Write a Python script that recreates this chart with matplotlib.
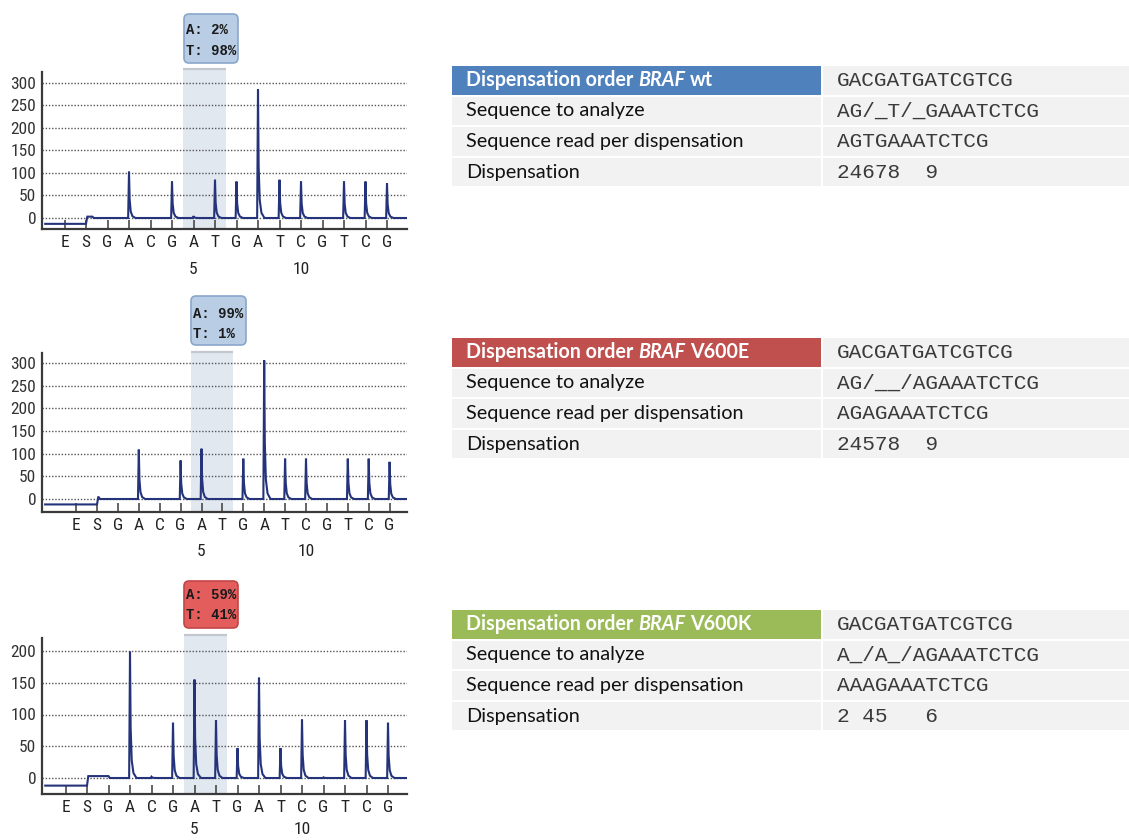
import matplotlib
matplotlib.use("Agg")
import matplotlib.pyplot as plt
from matplotlib import font_manager, transforms
from matplotlib.patches import Rectangle, FancyBboxPatch

# ---------------- data ----------------
disp_labels = ['E', 'S', 'G', 'A', 'C', 'G', 'A', 'T', 'G', 'A', 'T', 'C', 'G', 'T', 'C', 'G']
disp_positions = list(range(-1, 15))
numbered_positions = [5, 10]

wt_heights = [0, 103, 0, 81, 4, 85, 81, 286, 85, 81, 0, 81, 81, 77]
v600e_heights = [0, 109, 0, 85, 111, 0, 89, 306, 89, 89, 0, 89, 89, 82]
v600k_heights = [0, 199, 2, 87, 155, 91, 47, 158, 47, 92, 1, 91, 91, 87]

pre_levels = [-13, -12, -12]
s_levels = [3, 4, 3]
s_level_ends = [0.3, 0.08, 1.0]

yticks_wt = [0, 50, 100, 150, 200, 250, 300]
yticks_e = [0, 50, 100, 150, 200, 250, 300]
yticks_k = [0, 50, 100, 150, 200]

pct_wt = ["A: 2%", "T: 98%"]
pct_e = ["A: 99%", "T: 1%"]
pct_k = ["A: 59%", "T: 41%"]

row_labels = ["Sequence to analyze", "Sequence read per dispensation", "Dispensation"]
header_prefix = "Dispensation order "
gene = "BRAF"
variants = ["wt", "V600E", "V600K"]
dispensation_order = "GACGATGATCGTCG"
seq_to_analyze = ["AG/_T/_GAAATCTCG", "AG/__/AGAAATCTCG", "A_/A_/AGAAATCTCG"]
seq_read = ["AGTGAAATCTCG", "AGAGAAATCTCG", "AAAGAAATCTCG"]
dispensation = ["24678  9", "24578  9", "2 45   6"]

# ---------------- styling ----------------
W, H, DPI = 1129, 840, 100
names = {f.name for f in font_manager.fontManager.ttflist}
def pick(cands):
    for c in cands:
        if c in names:
            return c
    return "DejaVu Sans"
NARROW = pick(["Liberation Sans Narrow", "Roboto Condensed", "DejaVu Sans Condensed", "Liberation Sans"])
TABLE_FONT = pick(["Lato", "Open Sans", "Noto Sans"])
MONO = pick(["Liberation Mono", "DejaVu Sans Mono"])

fig = plt.figure(figsize=(W / DPI, H / DPI), dpi=DPI)
fig.patch.set_facecolor("white")
ident = transforms.IdentityTransform()

def fx(x):
    return x / W

def fy(y):
    return 1 - y / H

TRACE = "#24337a"
TICKFS = 12.5

charts = [
    dict(h=wt_heights, yt=yticks_wt, pct=pct_wt, top=72, bot=229, x0px=86, dxpx=21.5, y0px=218, pxu=0.45,
         shade_top=69, box=(184, 14, 238, 63), lines=(30, 51), tx=186, fc="#b9cde5", ec="#8aa6cc", numoff=-41),
    dict(h=v600e_heights, yt=yticks_e, pct=pct_e, top=353, bot=512, x0px=97, dxpx=20.9, y0px=499, pxu=0.4533,
         shade_top=352, box=(191, 296, 246, 345), lines=(314, 334), tx=193, fc="#b9cde5", ec="#8aa6cc", numoff=-40),
    dict(h=v600k_heights, yt=yticks_k, pct=pct_k, top=638, bot=794, x0px=87, dxpx=21.5, y0px=778, pxu=0.635,
         shade_top=635, box=(184, 581, 238, 628), lines=(595, 615), tx=186, fc="#e35d5d", ec="#c24545", numoff=-35),
]
LEFT, RIGHT = 42, 407

for k, c in enumerate(charts):
    ax = fig.add_axes([fx(LEFT), fy(c["bot"]), (RIGHT - LEFT) / W, (c["bot"] - c["top"]) / H])
    xmin = (LEFT - c["x0px"]) / c["dxpx"]
    xmax = (RIGHT - c["x0px"]) / c["dxpx"]
    ymin = (c["y0px"] - c["bot"]) / c["pxu"]
    ymax = (c["y0px"] - c["top"]) / c["pxu"]
    ax.set_xlim(xmin, xmax)
    ax.set_ylim(ymin, ymax)
    ax.set_facecolor("none")

    # shaded variant region
    stop = (c["y0px"] - c["shade_top"]) / c["pxu"]
    ax.add_patch(Rectangle((4.5, ymin), 2.0, stop - ymin, facecolor="#e2e8f0", edgecolor="none",
                           zorder=0.2, clip_on=False))
    ax.plot([4.5, 6.5], [stop, stop], color="#c3c8d0", lw=1.6, zorder=0.3, clip_on=False,
            solid_capstyle="butt")

    # trace
    xs = [xmin + 0.15, 0.0, 0.06, s_level_ends[k], s_level_ends[k] + 0.06]
    ys = [pre_levels[k], pre_levels[k], s_levels[k], s_levels[k], 0]
    for i, hgt in enumerate(c["h"], start=1):
        if hgt <= 0:
            continue
        xs += [i - 0.04, i, i + 0.03, i + 0.08, i + 0.16, i + 0.3]
        ys += [0, hgt, 0.4 * hgt, 0.14 * hgt, 0.04 * hgt, 0]
    xs.append(xmax)
    ys.append(0)
    ax.plot(xs, ys, color=TRACE, lw=1.5, zorder=3, solid_joinstyle="miter")

    # axes
    for s in ["top", "right"]:
        ax.spines[s].set_visible(False)
    for s in ["left", "bottom"]:
        ax.spines[s].set_color("#3a3a3a")
        ax.spines[s].set_linewidth(1.6)
    ax.set_yticks(c["yt"])
    ax.set_yticklabels([str(v) for v in c["yt"]], fontfamily=NARROW, fontsize=TICKFS, color="#333333")
    ax.set_xticks(disp_positions)
    ax.set_xticklabels(disp_labels, fontfamily=NARROW, fontsize=TICKFS, color="#222222")
    ax.tick_params(axis="y", length=0, pad=4)
    ax.tick_params(axis="x", direction="in", length=6.5, width=1.1, color="#3a3a3a", pad=4.5)
    ax.set_axisbelow(True)
    ax.yaxis.grid(True, linestyle=(0, (1, 1.3)), color="#555555", lw=1.0)
    for p in numbered_positions:
        ax.annotate(str(p), xy=(p, 0), xycoords=("data", "axes fraction"), xytext=(0, c["numoff"]),
                    textcoords="offset pixels", ha="center", va="center", fontfamily=NARROW,
                    fontsize=TICKFS, color="#222222", annotation_clip=False)

    # percentage box
    x0, y0, x1, y1 = c["box"]
    fig.patches.append(FancyBboxPatch((x0 + 3, H - y1 + 3), x1 - x0 - 6, y1 - y0 - 6,
                                      boxstyle="round,pad=3,rounding_size=5", transform=ident,
                                      facecolor=c["fc"], edgecolor=c["ec"], lw=1.2, figure=fig))
    for line, yy in zip(c["pct"], c["lines"]):
        fig.text(fx(c["tx"]), fy(yy), line, fontfamily=MONO, fontweight="bold", fontsize=10,
                 color="#1a1a1a", va="center", ha="left")

# ---------------- tables ----------------
renderer = fig.canvas.get_renderer()

def fit_size(text, family, weight, target, base=12, style="normal"):
    t = fig.text(0, 0, text, fontfamily=family, fontweight=weight, fontsize=base, fontstyle=style)
    w = t.get_window_extent(renderer).width
    t.remove()
    return base * target / w

body_size = fit_size("Sequence read per dispensation", TABLE_FONT, "normal", 277)
head_size = fit_size("Dispensation order BRAF wt", TABLE_FONT, "bold", 248)
mono_size = fit_size(dispensation_order, MONO, "normal", 178)

head_colors = ["#4f81bd", "#c0504d", "#9bbb59"]
table_tops = [66, 338, 610]
LCOL0, LCOL1, RCOL0, RCOL1 = 452, 821, 823, 1129
PITCH, CELLH = 30.6, 28.5

def width_px(text, **kw):
    t = fig.text(0, 0, text, **kw)
    w = t.get_window_extent(renderer).width
    t.remove()
    return w

for k in range(3):
    top = table_tops[k]
    left_texts = [None] + row_labels
    right_texts = [dispensation_order, seq_to_analyze[k], seq_read[k], dispensation[k]]
    for r in range(4):
        yt = top + r * PITCH
        lc = head_colors[k] if r == 0 else "#f2f2f2"
        fig.patches.append(Rectangle((LCOL0, H - yt - CELLH), LCOL1 - LCOL0, CELLH, transform=ident,
                                     facecolor=lc, edgecolor="none", figure=fig))
        fig.patches.append(Rectangle((RCOL0, H - yt - CELLH), RCOL1 - RCOL0, CELLH, transform=ident,
                                     facecolor="#f2f2f2", edgecolor="none", figure=fig))
        yc = yt + CELLH / 2
        fig.text(fx(837), fy(yc), right_texts[r], fontfamily=MONO, fontsize=mono_size,
                 color="#3a3a3a", va="center", ha="left")
        if r == 0:
            kw = dict(fontfamily=TABLE_FONT, fontweight="bold", fontsize=head_size, color="white")
            sp = width_px("a a", **kw) - width_px("aa", **kw)
            x = 466
            fig.text(fx(x), fy(yc), header_prefix.strip(), va="center", ha="left", **kw)
            x += width_px(header_prefix.strip(), **kw) + sp
            fig.text(fx(x), fy(yc), gene, va="center", ha="left", fontstyle="italic", **kw)
            x += width_px(gene, fontstyle="italic", **kw) + sp
            fig.text(fx(x), fy(yc), variants[k], va="center", ha="left", **kw)
        else:
            fig.text(fx(466), fy(yc), left_texts[r], fontfamily=TABLE_FONT, fontsize=body_size,
                     color="#111111", va="center", ha="left")

fig.savefig("out.png", dpi=DPI, facecolor="white")
